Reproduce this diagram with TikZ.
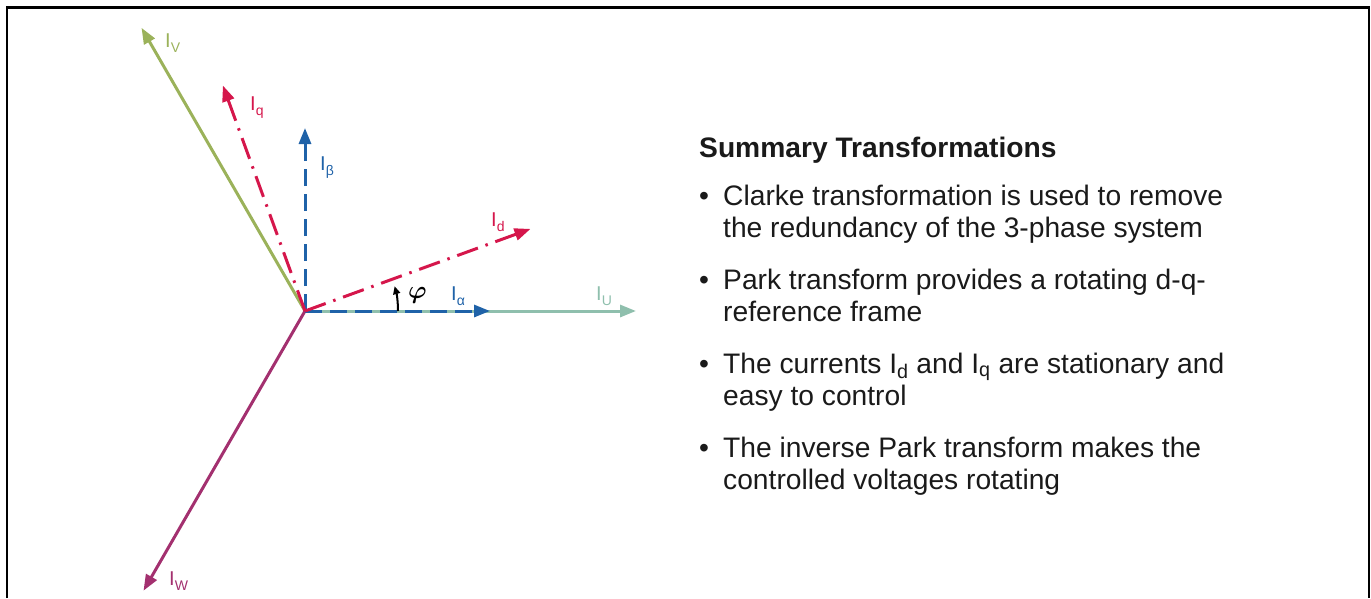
\documentclass[tikz,border=0pt]{standalone}
\usepackage{amsmath}
\usepackage{fontspec}
\setmainfont{Liberation Sans}
\usetikzlibrary{arrows.meta}
\definecolor{cgreen}{RGB}{155,178,90}
\definecolor{cteal}{RGB}{143,191,173}
\definecolor{cpurple}{RGB}{163,48,111}
\definecolor{cred}{RGB}{213,22,75}
\definecolor{cblue}{RGB}{31,98,168}
\definecolor{ctext}{RGB}{26,26,26}
\newcommand{\Ilab}[1]{I\raisebox{-0.25em}{\fontsize{14}{14}\selectfont #1}}
\tikzset{
  vec/.style={line width=3pt,-{Triangle[length=16pt,width=12pt]}},
  dashvec/.style={vec,dash pattern=on 17pt off 8pt},
  dotvec/.style={vec,dash pattern=on 22pt off 8pt on 2.5pt off 8pt},
  lab/.style={inner sep=0pt,anchor=base west,font=\fontsize{20}{20}\selectfont},
  body/.style={inner sep=0pt,anchor=base west,text=ctext,font=\fontsize{28.2}{28}\selectfont},
  frameline/.style={line width=2.5pt,black}
}
\begin{document}
\begin{tikzpicture}[x=1pt,y=-1pt]
\useasboundingbox (0,0) rectangle (1371,598);
% frame
\coordinate (f1) at (7,598);
\coordinate (f2) at (7,7.5);
\coordinate (f3) at (1369,7.5);
\coordinate (f4) at (1369,598);
\draw[frameline] (f1) -- (f2) -- (f3) -- (f4);
% origin and tips
\coordinate (O) at (305,311);
\coordinate (U) at (636,311);
\coordinate (V) at (141.5,27.8);
\coordinate (W) at (143.5,590.7);
\coordinate (beta) at (305,128);
\coordinate (alpha) at (490,311);
\coordinate (d) at (530.5,228.9);
\coordinate (q) at (222.9,85.5);
% phase vectors
\draw[vec,cteal] (O) -- (U);
\draw[vec,cgreen] (O) -- (V);
\draw[vec,cpurple] (O) -- (W);
% alpha-beta
\draw[dashvec,cblue] (O) -- (alpha);
\draw[dashvec,cblue] (O) -- (beta);
% d-q
\draw[dotvec,cred] (O) -- (d);
\draw[dotvec,cred] (O) -- (q);
% angle
\draw[line width=2pt,-{Triangle[length=8pt,width=7pt]}] (398,311) arc[start angle=0,end angle=-15.5,radius=93];
% labels
\node[lab,text=cgreen] (lV) at (165,47) {\Ilab{V}};
\node[lab,text=cred] (lq) at (250,110) {\Ilab{q}};
\node[lab,text=cblue] (lb) at (320,170) {\Ilab{β}};
\node[lab,text=cred] (ld) at (491,226) {\Ilab{d}};
\node[lab,text=cblue] (la) at (451,300) {\Ilab{α}};
\node[lab,text=cteal] (lU) at (596,300) {\Ilab{U}};
\node[lab,text=cpurple] (lW) at (169,585) {\Ilab{W}};
\node[inner sep=0pt,anchor=base west] (phi) at (408,298) {\fontsize{26}{26}\selectfont$\boldsymbol{\varphi}$};
% text
\node[body,font=\fontsize{28.2}{28}\selectfont\bfseries] (title) at (699,157) {Summary Transformations};
\node[body] (b1) at (699,205) {•};
\node[body] (t1a) at (723,205) {Clarke transformation is used to remove};
\node[body] (t1b) at (723,237.5) {the redundancy of the 3-phase system};
\node[body] (b2) at (699,289) {•};
\node[body] (t2a) at (723,289) {Park transform provides a rotating d-q-};
\node[body] (t2b) at (723,321.5) {reference frame};
\node[body] (b3) at (699,373) {•};
\node[body] (t3a) at (723,373) {The currents I\textsubscript{d} and I\textsubscript{q} are stationary and};
\node[body] (t3b) at (723,405.5) {easy to control};
\node[body] (b4) at (699,457) {•};
\node[body] (t4a) at (723,457) {The inverse Park transform makes the};
\node[body] (t4b) at (723,489.5) {controlled voltages rotating};
\end{tikzpicture}
\end{document}
